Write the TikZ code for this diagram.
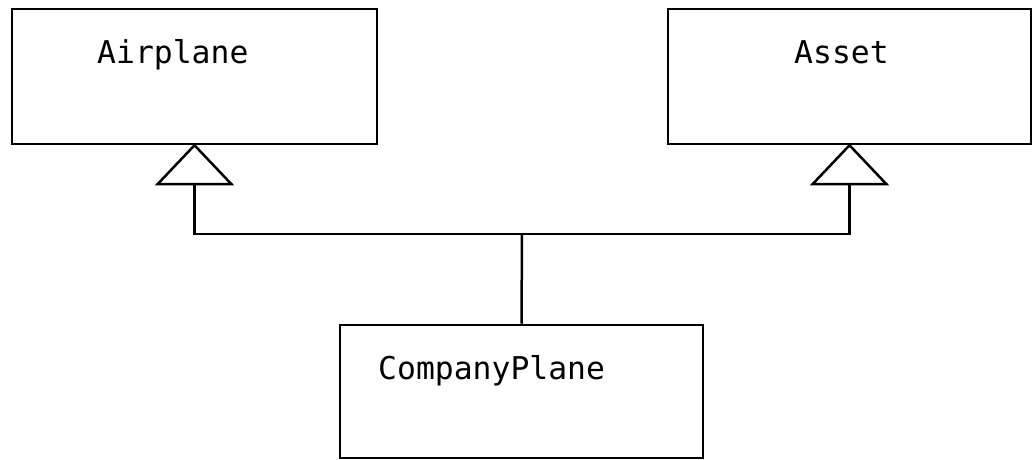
\documentclass[tikz,border=0pt]{standalone}
\usepackage{fontspec}
\setmonofont{DejaVu Sans Mono}
\usetikzlibrary{calc}
\begin{document}
\begin{tikzpicture}[x=1pt,y=1pt,
  classbox/.style={draw, line width=2.5pt, rectangle, inner sep=0pt},
  lbl/.style={anchor=base west, inner sep=0pt, font=\ttfamily\fontsize{31.4}{36}\selectfont},
  wire/.style={line width=2.5pt},
  tri/.style={line width=2.5pt, line join=miter, fill=white}]
\useasboundingbox (0,0) rectangle (1036,460);
\node[classbox, minimum width=365pt, minimum height=135pt] (airplane) at (194.5,383.5) {};
\node[classbox, minimum width=363pt, minimum height=135pt] (asset) at (849.5,383.5) {};
\node[classbox, minimum width=363pt, minimum height=133pt] (company) at (521.5,68.5) {};
\node[lbl] (airplanetxt) at (97,396) {Airplane};
\node[lbl] (assettxt) at (794,396) {Asset};
\node[lbl] (companytxt) at (378,80) {CompanyPlane};
\coordinate (abase) at ($(airplane.south)+(0,-39)$);
\coordinate (sbase) at ($(asset.south)+(0,-39)$);
\coordinate (bar) at (522,226);
\draw[wire] (abase) -- (abase |- bar) -- (sbase |- bar) -- (sbase);
\draw[wire] (company.north) -- (bar);
\draw[tri] (airplane.south) -- ($(abase)+(-37,0)$) -- ($(abase)+(37,0)$) -- cycle;
\draw[tri] (asset.south) -- ($(sbase)+(-37,0)$) -- ($(sbase)+(37,0)$) -- cycle;
\end{tikzpicture}
\end{document}
